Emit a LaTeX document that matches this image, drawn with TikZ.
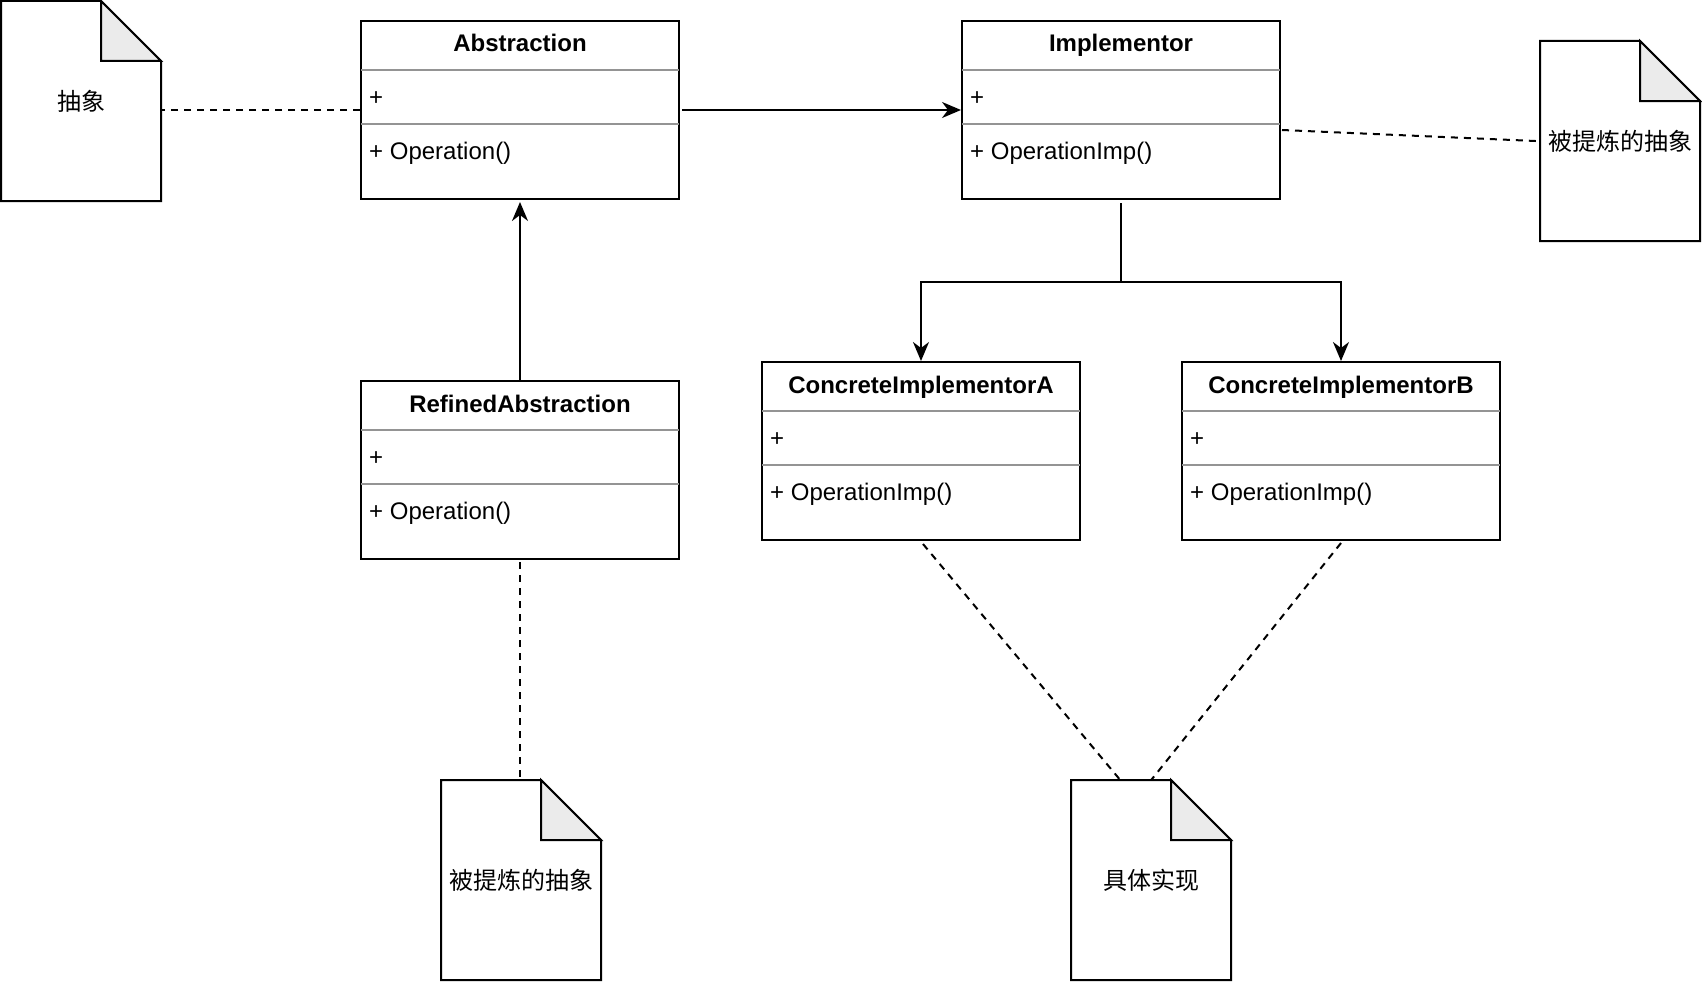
\documentclass[tikz,border=0pt]{standalone}
\usepackage{fontspec}
\setmainfont{Liberation Sans}
\newfontfamily\cjk{Noto Sans CJK SC}
\usetikzlibrary{arrows.meta,calc}
\tikzset{
  dashline/.style={line width=2pt, dash pattern=on 7pt off 6pt},
  plainline/.style={line width=2pt},
  arr/.style={line width=2pt, -{Stealth[length=19pt,width=16pt,inset=6pt]}},
  classbox/.style={draw, line width=2pt, fill=white, minimum width=318pt, minimum height=178pt, anchor=north west, inner sep=0pt},
  divider/.style={draw=black!42, line width=2pt},
  txt/.style={font=\fontsize{24}{28}\selectfont, inner sep=0pt},
  ctitle/.style={font=\fontsize{24}{28}\selectfont\bfseries, inner sep=0pt, anchor=base},
  member/.style={txt, anchor=base west},
  docframe/.style={minimum width=160pt, minimum height=200pt, anchor=north west, inner sep=0pt, font=\fontsize{24}{28}\selectfont\cjk},
  docline/.style={line width=2pt, draw=black, fill=white, line join=miter},
  foldfill/.style={line width=2pt, draw=black, fill=black!8, line join=miter},
}
\newcommand\umlbox[6]{%
  \node[classbox] (#1) at (#2,#3) {};
  \node[ctitle] (#1-t) at ($(#1.north)+(0,32)$) {#4};
  \draw[divider] ($(#1.north west)+(1,50)$) -- ($(#1.north east)+(-1,50)$);
  \draw[divider] ($(#1.north west)+(1,104)$) -- ($(#1.north east)+(-1,104)$);
  \node[member] (#1-a) at ($(#1.north west)+(9,85)$) {#5};
  \node[member] (#1-m) at ($(#1.north west)+(9,139)$) {#6};
}
\newcommand\docnote[4]{%
  \path[docline] (#2,#3) -- ++(100,0) -- ++(60,60) -- ++(0,140) -- ++(-160,0) -- cycle;
  \path[foldfill] (#2+100,#3) -- ++(0,60) -- ++(60,0) -- cycle;
  \node[docframe] (#1) at (#2,#3) {#4};
}
\begin{document}
\begin{tikzpicture}[x=1pt,y=-1pt]
\useasboundingbox (0,0) rectangle (1702,982);
\fill[white] (0,0) rectangle (1702,982);

\umlbox{abs}{360}{20}{Abstraction}{+}{+ Operation()}
\umlbox{impl}{961}{20}{Implementor}{+}{+ OperationImp()}
\umlbox{ref}{360}{380}{RefinedAbstraction}{+}{+ Operation()}
\umlbox{cia}{761}{361}{ConcreteImplementorA}{+}{+ OperationImp()}
\umlbox{cib}{1181}{361}{ConcreteImplementorB}{+}{+ OperationImp()}

\docnote{doc1}{1}{1}{抽象}
\docnote{doc2}{1540}{41}{被提炼的抽象}
\docnote{doc3}{441}{780}{被提炼的抽象}
\docnote{doc4}{1071}{780}{具体实现}

% connectors
\draw[dashline] (abs.west) -- (abs.west -| doc1.east);
\draw[arr] ($(abs.east)+(2,0)$) -- (impl.west);
\draw[arr] (ref.north) -- ($(abs.south)+(0,2)$);
\coordinate (split) at ($(impl.south)+(0,82)$);
\draw[plainline] ($(impl.south)+(0,3)$) -- (split);
\draw[arr] (split) -| (cia.north);
\draw[arr] (split) -| (cib.north);
\draw[dashline] ($(impl.east)+(1,20)$) -- (doc2.west);
\draw[dashline] ($(ref.south)+(0,2)$) -- (ref.south |- doc3.north);
\draw[dashline] ($(cia.south)+(2,3)$) -- ($(doc4.north)+(-31,0)$);
\draw[dashline] ($(cib.south)+(0,2)$) -- (doc4.north);
\end{tikzpicture}
\end{document}
